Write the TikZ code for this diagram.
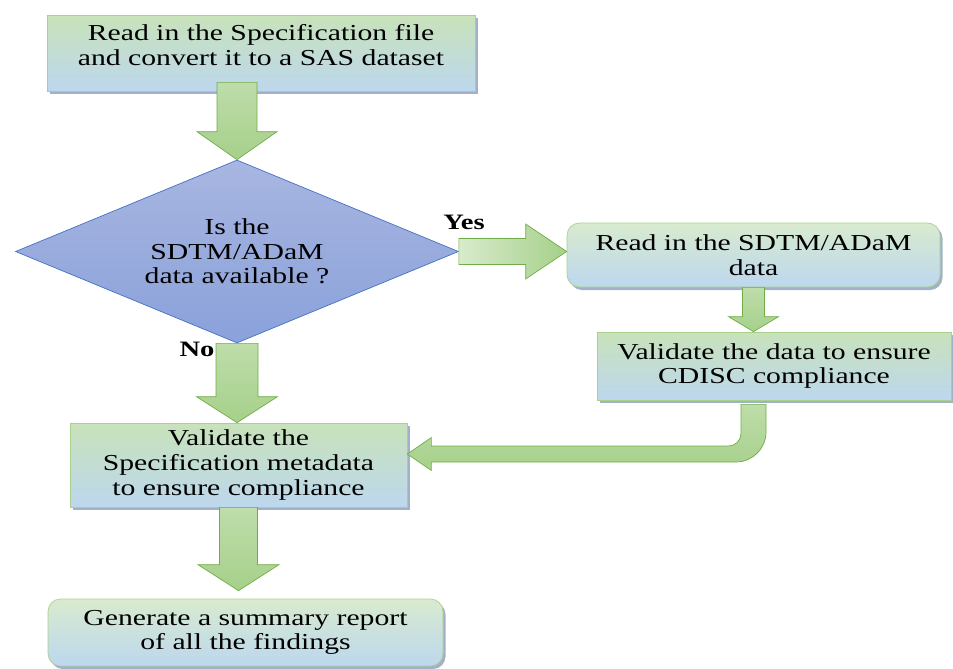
\documentclass[tikz,border=0pt]{standalone}
\usepackage{fontspec}
\setmainfont{Liberation Serif}[FakeStretch=1.3]
\usetikzlibrary{calc,positioning,shapes.geometric,shadows}
\definecolor{boxgreen}{RGB}{200,226,186}
\definecolor{boxblue}{RGB}{189,215,238}
\definecolor{boxedge}{RGB}{169,209,142}
\definecolor{shadowgray}{RGB}{140,158,186}
\definecolor{dtop}{RGB}{168,182,225}
\definecolor{dbottom}{RGB}{138,161,218}
\definecolor{dedge}{RGB}{68,114,196}
\definecolor{flowlight}{RGB}{190,221,170}
\definecolor{flowgreen}{RGB}{166,208,138}
\definecolor{flowedge}{RGB}{112,173,71}

% block arrow pointing down: start, tip, shaft half width, head half width, head length
\newcommand{\flowdown}[5]{%
  \path[flow] let \p1=(#1), \p2=(#2) in
    (\x1-#3,\y1) -- (\x1-#3,\y2+#5) -- (\x1-#4,\y2+#5) -- (\x1,\y2)
    -- (\x1+#4,\y2+#5) -- (\x1+#3,\y2+#5) -- (\x1+#3,\y1) -- cycle;}
% block arrow pointing right
\newcommand{\flowright}[5]{%
  \path[flowh] let \p1=(#1), \p2=(#2) in
    (\x1,\y1-#3) -- (\x2-#5,\y1-#3) -- (\x2-#5,\y1-#4) -- (\x2,\y1)
    -- (\x2-#5,\y1+#4) -- (\x2-#5,\y1+#3) -- (\x1,\y1+#3) -- cycle;}

\begin{document}
\begin{tikzpicture}[font=\fontsize{13pt}{14pt}\selectfont,every node/.style={align=center},
    box/.style={draw=boxedge,top color=boxgreen,bottom color=boxblue,inner sep=2pt,
      drop shadow={shadow xshift=0.05cm,shadow yshift=-0.06cm,fill=shadowgray,opacity=0.8}},
    roundbox/.style={box,rounded corners=0.25cm,top color=boxgreen!70!white},
    decision/.style={diamond,draw=dedge,top color=dtop,bottom color=dbottom,inner sep=0pt,shape aspect=2.5},
    flow/.style={draw=flowedge,top color=flowlight,bottom color=flowgreen},
    flowh/.style={flow,left color=flowlight!60!white,right color=flowgreen},
    lbl/.style={font=\fontsize{12.5pt}{13pt}\selectfont\bfseries}]
  \useasboundingbox (0,0) rectangle (19.06,-13.36);

  \node[box,minimum width=8.56cm,minimum height=1.52cm,text depth=0.33cm] (spec) at (5.22,-1.06)
    {Read in the Specification file\\and convert it to a SAS dataset};
  \node[decision,minimum width=8.86cm,minimum height=3.66cm] (ask) at (4.74,-5.03)
    {Is the\\SDTM/ADaM\\data available ?};
  \node[roundbox,minimum width=7.46cm,minimum height=1.28cm] (readin) at (15.07,-5.10)
    {Read in the SDTM/ADaM\\data};
  \node[box,minimum width=7.08cm,minimum height=1.36cm] (valdata) at (15.48,-7.32)
    {Validate the data to ensure\\CDISC compliance};
  \node[box,minimum width=6.74cm,minimum height=1.68cm] (valspec) at (4.77,-9.30)
    {Validate the\\Specification metadata\\to ensure compliance};
  \node[roundbox,minimum width=7.9cm,minimum height=1.34cm] (report) at (4.91,-12.65)
    {Generate a summary report\\of all the findings};

  \node[lbl] (yes) at (9.28,-4.44) {Yes};
  \node[lbl] (no) at (3.94,-6.98) {No};

  \flowdown{$(ask.north |- spec.south)+(0,0.18)$}{ask.north}{0.4cm}{0.8cm}{0.56cm}
  \flowright{ask.east}{readin.west}{0.26cm}{0.55cm}{0.82cm}
  \flowdown{ask.south}{ask.south |- valspec.north}{0.42cm}{0.81cm}{0.52cm}
  \flowdown{readin.south}{readin.south |- valdata.north}{0.22cm}{0.5cm}{0.3cm}
  \flowdown{valspec.south}{$(valspec.south |- report.north)+(0,0.16)$}{0.38cm}{0.81cm}{0.52cm}
  % back to the specification check
  \path[flow] let \p1=($(readin.south |- valdata.south)+(0,-0.08)$), \p2=($(valspec.east)+(0,0.22)$) in
    (\x1-0.25cm,\y1) -- (\x1-0.25cm,\y2+0.41cm) arc[start angle=0,end angle=-90,radius=0.25cm]
    -- (\x2+0.48cm,\y2+0.16cm) -- (\x2+0.48cm,\y2+0.33cm) -- (\x2,\y2)
    -- (\x2+0.48cm,\y2-0.33cm) -- (\x2+0.48cm,\y2-0.16cm) -- (\x1-0.35cm,\y2-0.16cm)
    arc[start angle=-90,end angle=0,radius=0.6cm] -- (\x1+0.25cm,\y1) -- cycle;
\end{tikzpicture}
\end{document}
